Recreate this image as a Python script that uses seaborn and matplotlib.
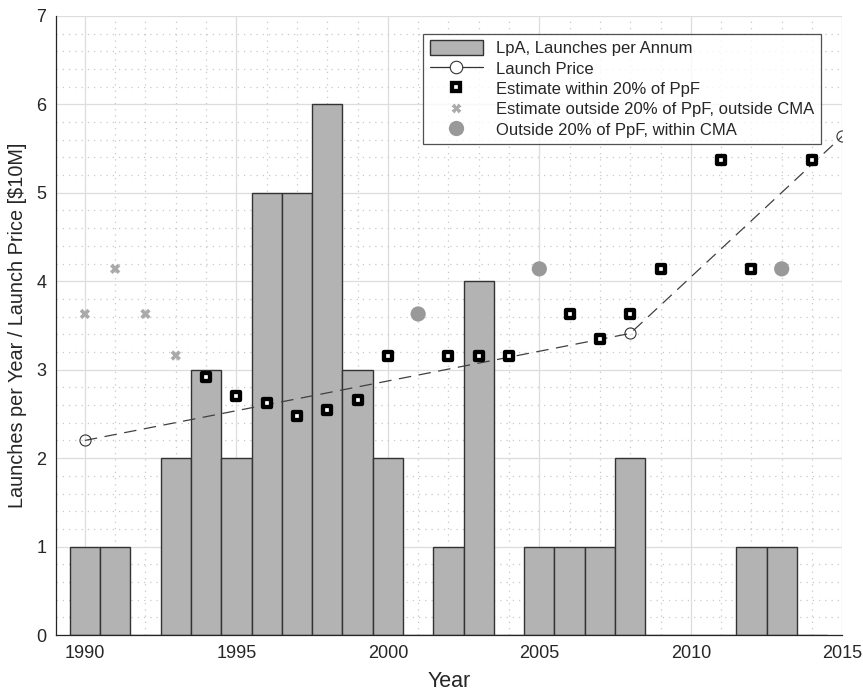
import numpy as np
import matplotlib
matplotlib.use('Agg')
import matplotlib.pyplot as plt
import seaborn as sns
from matplotlib.lines import Line2D
from matplotlib.patches import Patch
from matplotlib.ticker import MultipleLocator

# 연간 발사 횟수 (LpA)
years = list(range(1990, 2015))
lpa = [1, 1, 0, 2, 3, 2, 5, 5, 6, 3, 2, 0, 1, 4, 0, 1, 1, 1, 2, 0, 0, 0, 1, 1, 0]

# 발사 가격 [$10M]
price_years = [1990, 2008, 2015]
price = [2.20, 3.41, 5.64]

# PpF 20% 이내 추정치
in_years = [1994, 1995, 1996, 1997, 1998, 1999, 2000, 2002, 2003, 2004,
            2006, 2007, 2008, 2009, 2011, 2012, 2014]
in_vals = [2.92, 2.70, 2.62, 2.48, 2.54, 2.66, 3.16, 3.16, 3.16, 3.16,
           3.63, 3.35, 3.63, 4.14, 5.37, 4.14, 5.37]

# PpF 20% 밖, CMA 밖
out_years = [1990, 1991, 1992, 1993]
out_vals = [3.63, 4.14, 3.63, 3.16]

# PpF 20% 밖, CMA 이내
cma_years = [2001, 2005, 2013]
cma_vals = [3.63, 4.14, 4.14]

sns.set_style('white')
plt.rcParams['font.family'] = ['Liberation Sans', 'DejaVu Sans']
plt.rcParams['text.color'] = '#262626'
plt.rcParams['axes.labelcolor'] = '#262626'
plt.rcParams['xtick.color'] = '#262626'
plt.rcParams['ytick.color'] = '#262626'

fig = plt.figure(figsize=(8.63, 6.91), dpi=100)
ax = fig.add_axes([0.065, 0.081, 0.911, 0.896])

# 막대 그래프
sns.histplot(x=years, weights=lpa, discrete=True, ax=ax,
             color='#b3b3b3', edgecolor='#333333', linewidth=1.0, alpha=1.0)

# 발사 가격 선
ax.plot(price_years, price, color='#404040', linestyle=(0, (10, 6)), linewidth=0.9,
        marker='o', markersize=8, markerfacecolor='none', markeredgecolor='#333333',
        markeredgewidth=0.8, zorder=3)

sns.scatterplot(x=out_years, y=out_vals, ax=ax, marker='X', s=55, color='#aaaaaa',
                edgecolor='none', zorder=4)
sns.scatterplot(x=cma_years, y=cma_vals, ax=ax, marker='o', s=120, color='#999999',
                edgecolor='none', zorder=4)
sns.scatterplot(x=in_years, y=in_vals, ax=ax, marker='s', s=28, color='white',
                edgecolor='black', linewidth=3.1, zorder=5)

ax.set_xlim(1989.05, 2015)
ax.set_ylim(0, 7)
ax.xaxis.set_major_locator(MultipleLocator(5))
ax.xaxis.set_minor_locator(MultipleLocator(1))
ax.yaxis.set_major_locator(MultipleLocator(1))
ax.yaxis.set_minor_locator(MultipleLocator(0.2))
ax.grid(True, which='major', color='#dddddd', linewidth=0.9, linestyle='-')
ax.grid(True, which='minor', color='#c8c8c8', linewidth=0.9, linestyle=(0, (1, 4)))
ax.set_axisbelow(True)
ax.tick_params(which='major', direction='in', length=6, width=0.9, labelsize=13, pad=7)
ax.tick_params(which='minor', length=0)
for s in ['top', 'right']:
    ax.spines[s].set_visible(False)
for s in ['left', 'bottom']:
    ax.spines[s].set_color('#262626')
    ax.spines[s].set_linewidth(0.9)

ax.set_xlabel('Year', fontsize=15.5, labelpad=7)
ax.set_ylabel('Launches per Year / Launch Price [$10M]', fontsize=14.3, labelpad=7)

handles = [
    Patch(facecolor='#b3b3b3', edgecolor='#333333', linewidth=1.0),
    Line2D([], [], color='#333333', linewidth=0.9, marker='o', markersize=9,
           markerfacecolor='white', markeredgecolor='#333333', markeredgewidth=0.8),
    Line2D([], [], linestyle='none', marker='s', markersize=5.5, markerfacecolor='white',
           markeredgecolor='black', markeredgewidth=3.1),
    Line2D([], [], linestyle='none', marker='X', markersize=7, color='#aaaaaa',
           markeredgecolor='none'),
    Line2D([], [], linestyle='none', marker='o', markersize=11, color='#999999',
           markeredgecolor='none'),
]
labels = ['LpA, Launches per Annum', 'Launch Price', 'Estimate within 20% of PpF',
          'Estimate outside 20% of PpF, outside CMA', 'Outside 20% of PpF, within CMA']
leg = ax.legend(handles, labels, loc='upper right', bbox_to_anchor=(0.984, 0.985),
                fontsize=12, frameon=True, fancybox=False, handlelength=3.2,
                handleheight=1.0, labelspacing=0.25, borderpad=0.4, handletextpad=0.8)
leg.get_frame().set_edgecolor('#262626')
leg.get_frame().set_linewidth(0.9)

fig.savefig('out.png', dpi=100)
